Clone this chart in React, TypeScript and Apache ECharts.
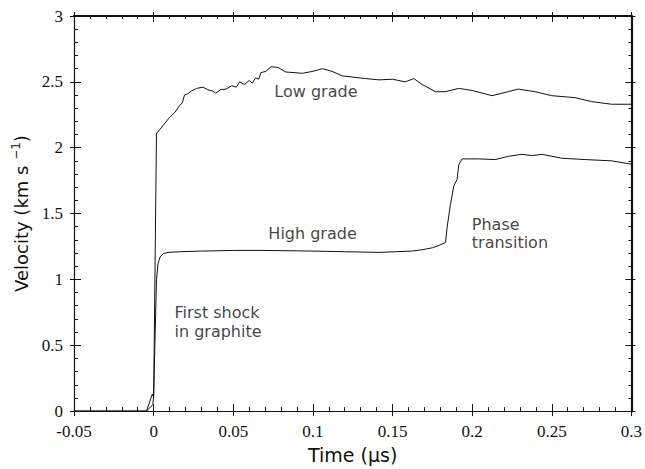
import React, { useEffect, useRef } from "react";
import * as echarts from "echarts";

const lowGradeT = [-0.05, -0.0045, -0.0008, 0, 0.0018, 0.0027, 0.006, 0.01, 0.0135, 0.0163, 0.018, 0.0194, 0.0215, 0.0236, 0.027, 0.031, 0.034, 0.037, 0.039, 0.042, 0.0455, 0.049, 0.052, 0.054, 0.057, 0.06, 0.062, 0.064, 0.066, 0.0674, 0.0705, 0.0737, 0.078, 0.083, 0.0935, 0.1, 0.106, 0.112, 0.1185, 0.133, 0.1415, 0.15, 0.158, 0.1634, 0.1686, 0.177, 0.183, 0.1916, 0.2, 0.2125, 0.229, 0.2396, 0.25, 0.2646, 0.275, 0.2877, 0.3];
const lowGradeV = [0, 0, 0.13, 0.1, 2.11, 2.12, 2.17, 2.23, 2.27, 2.32, 2.34, 2.4, 2.41, 2.43, 2.45, 2.46, 2.44, 2.43, 2.415, 2.44, 2.445, 2.47, 2.46, 2.5, 2.48, 2.51, 2.49, 2.53, 2.52, 2.57, 2.58, 2.615, 2.61, 2.575, 2.565, 2.58, 2.6, 2.58, 2.545, 2.525, 2.515, 2.52, 2.5, 2.525, 2.48, 2.425, 2.425, 2.45, 2.435, 2.395, 2.445, 2.425, 2.395, 2.38, 2.35, 2.33, 2.33];

const highGradeT = [-0.05, -0.0045, -0.0005, 0, 0.0012, 0.0018, 0.0028, 0.004, 0.006, 0.009, 0.0163, 0.03, 0.05, 0.07, 0.1, 0.12, 0.1415, 0.152, 0.162, 0.1686, 0.175, 0.179, 0.1833, 0.1843, 0.1864, 0.1885, 0.1906, 0.1916, 0.1937, 0.204, 0.2145, 0.223, 0.2312, 0.2375, 0.2438, 0.2563, 0.271, 0.2877, 0.3];
const highGradeV = [0, 0, 0.05, 0.12, 0.7, 1.0, 1.12, 1.17, 1.195, 1.205, 1.21, 1.215, 1.22, 1.22, 1.215, 1.21, 1.205, 1.21, 1.215, 1.225, 1.24, 1.257, 1.28, 1.395, 1.57, 1.71, 1.76, 1.87, 1.915, 1.915, 1.91, 1.935, 1.95, 1.94, 1.95, 1.92, 1.91, 1.9, 1.875];

// annotation lines: [t, v, text, anchor]
const annotations: [number, number, string, string][] = [
  [0.1019, 2.423, "Low grade", "center"],
  [0.0998, 1.35, "High grade", "center"],
  [0.1998, 1.42, "Phase", "left"],
  [0.1998, 1.28, "transition", "left"],
  [0.0131, 0.745, "First shock", "left"],
  [0.0131, 0.605, "in graphite", "left"],
];

const X_MIN = -0.05;
const X_MAX = 0.3;
const X_STEP = 0.05;
const Y_MIN = 0;
const Y_MAX = 3;
const Y_STEP = 0.5;

const INK = "#111111";
const SANS = "DejaVu Sans";
const SERIF = "Liberation Serif";

export default function App() {
  const ref = useRef<HTMLDivElement>(null);
  useEffect(() => {
    if (!ref.current) return;
    const chart = echarts.init(ref.current, undefined, { renderer: "svg" });
    const zip = (a: number[], b: number[]) => a.map((t, i) => [t, b[i]]);

    const xBase = { type: "value", min: X_MIN, max: X_MAX, interval: X_STEP, splitLine: { show: false } } as any;
    const yBase = { type: "value", min: Y_MIN, max: Y_MAX, interval: Y_STEP, splitLine: { show: false } } as any;

    const option: any = {
      animation: false,
      grid: { left: 74, right: 12, top: 16, bottom: 53, containLabel: false },
      xAxis: [
        {
          ...xBase,
          position: "bottom",
          axisLine: { show: true, onZero: false, lineStyle: { color: INK, width: 1.2 } },
          axisTick: { show: true, inside: true, length: 7, lineStyle: { color: INK, width: 1 } },
          minorTick: { show: true, splitNumber: 5, length: 4, lineStyle: { color: INK, width: 1 } },
          axisLabel: {
            color: INK,
            fontFamily: SERIF,
            fontSize: 17,
            margin: 12,
            formatter: (v: number) => String(Math.round(v * 100) / 100),
          },
          name: "Time (μs)",
          nameLocation: "middle",
          nameGap: 32,
          nameTextStyle: { color: INK, fontFamily: SANS, fontSize: 19 },
        },
        {
          ...xBase,
          position: "bottom",
          axisLine: { show: false, onZero: false },
          axisTick: { show: true, inside: false, length: 5, lineStyle: { color: INK, width: 1 } },
          axisLabel: { show: false },
        },
        {
          ...xBase,
          position: "top",
          axisLine: { show: true, onZero: false, lineStyle: { color: INK, width: 2.2 } },
          axisTick: { show: true, inside: true, length: 6, lineStyle: { color: INK, width: 1 } },
          minorTick: { show: true, splitNumber: 5, length: 3, lineStyle: { color: INK, width: 1 } },
          axisLabel: { show: false },
        },
        {
          ...xBase,
          position: "top",
          axisLine: { show: false, onZero: false },
          axisTick: { show: true, inside: false, length: 4, lineStyle: { color: INK, width: 1 } },
          axisLabel: { show: false },
        },
      ],
      yAxis: [
        {
          ...yBase,
          position: "left",
          axisLine: { show: true, onZero: false, lineStyle: { color: INK, width: 1.2 } },
          axisTick: { show: true, inside: true, length: 7, lineStyle: { color: INK, width: 1 } },
          minorTick: { show: true, splitNumber: 5, length: 4, lineStyle: { color: INK, width: 1 } },
          axisLabel: {
            color: INK,
            fontFamily: SERIF,
            fontSize: 17,
            margin: 11,
            formatter: (v: number) => String(Math.round(v * 10) / 10),
          },
          name: "{a|Velocity (km s }{s|−1}{a|)}",
          nameLocation: "middle",
          nameGap: 40,
          nameTextStyle: {
            color: INK,
            rich: {
              a: { fontFamily: SANS, fontSize: 18, color: INK, lineHeight: 24 },
              s: { fontFamily: SANS, fontSize: 12, color: INK, lineHeight: 14, verticalAlign: "top" },
            },
          },
        },
        {
          ...yBase,
          position: "left",
          axisLine: { show: false, onZero: false },
          axisTick: { show: true, inside: false, length: 4, lineStyle: { color: INK, width: 1 } },
          axisLabel: { show: false },
        },
        {
          ...yBase,
          position: "right",
          axisLine: { show: true, onZero: false, lineStyle: { color: INK, width: 2.2 } },
          axisTick: { show: true, inside: true, length: 6, lineStyle: { color: INK, width: 1 } },
          minorTick: { show: true, splitNumber: 5, length: 3, lineStyle: { color: INK, width: 1 } },
          axisLabel: { show: false },
        },
        {
          ...yBase,
          position: "right",
          axisLine: { show: false, onZero: false },
          axisTick: { show: true, inside: false, length: 4, lineStyle: { color: INK, width: 1 } },
          axisLabel: { show: false },
        },
      ],
      series: [
        {
          name: "Low grade",
          type: "line",
          xAxisIndex: 0,
          yAxisIndex: 0,
          data: zip(lowGradeT, lowGradeV),
          showSymbol: false,
          symbol: "none",
          lineStyle: { color: INK, width: 1 },
        },
        {
          name: "High grade",
          type: "line",
          xAxisIndex: 0,
          yAxisIndex: 0,
          data: zip(highGradeT, highGradeV),
          showSymbol: false,
          symbol: "none",
          lineStyle: { color: INK, width: 1 },
        },
        {
          name: "labels",
          type: "scatter",
          xAxisIndex: 0,
          yAxisIndex: 0,
          symbolSize: 0,
          silent: true,
          data: annotations.map(([t, v, text, anchor]) => ({
            value: [t, v],
            label: {
              show: true,
              formatter: text,
              position: anchor === "left" ? "right" : "inside",
              distance: 0,
              align: anchor === "left" ? "left" : "center",
              verticalAlign: "middle",
              color: INK,
              fontFamily: SANS,
              fontSize: 16,
              lineHeight: 16,
            },
          })),
        },
      ],
    };
    chart.setOption(option);
    return () => chart.dispose();
  }, []);
  return <div ref={ref} style={{ width: 645, height: 469, position: "absolute", left: 0, top: 0 }} />;
}
